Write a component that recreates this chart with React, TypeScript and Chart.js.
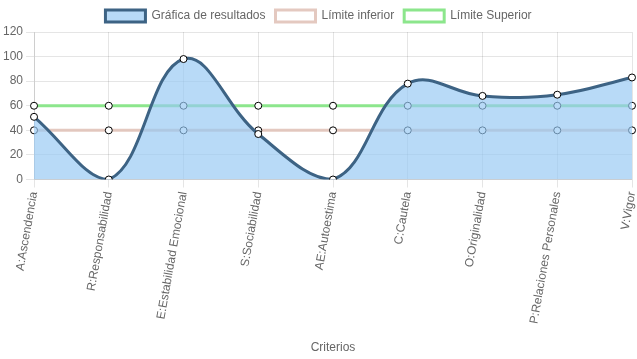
import React, { useEffect, useRef } from "react";
import { Chart, registerables } from "chart.js";

Chart.register(...registerables);

const categories = [
  "A:Ascendencia",
  "R:Responsabilidad",
  "E:Estabilidad Emocional",
  "S:Sociabilidad",
  "AE:Autoestima",
  "C:Cautela",
  "O:Originalidad",
  "P:Relaciones Personales",
  "V:Vigor",
];
const resultados = [51, 0, 98, 37, 0, 78, 68, 69, 83];
const limiteInferior = [40, 40, 40, 40, 40, 40, 40, 40, 40];
const limiteSuperior = [60, 60, 60, 60, 60, 60, 60, 60, 60];

export default function App() {
  const ref = useRef<HTMLCanvasElement>(null);
  useEffect(() => {
    if (!ref.current) return;
    Chart.defaults.font.family = "'Liberation Sans', Arial, sans-serif";
    Chart.defaults.color = "#666";
    const chart = new Chart(ref.current, {
      type: "line",
      data: {
        labels: categories,
        datasets: [
          {
            label: "Gráfica de resultados",
            data: resultados,
            borderColor: "#3d6384",
            backgroundColor: "rgba(150,200,243,0.68)",
            borderWidth: 3,
            fill: "origin",
            tension: 0.4,
            pointRadius: 3.5,
            pointBackgroundColor: "#fff",
            pointBorderColor: "#000",
            pointBorderWidth: 1,
          },
          {
            label: "Límite inferior",
            data: limiteInferior,
            borderColor: "rgba(225,195,185,0.9)",
            backgroundColor: "#fff",
            borderWidth: 3,
            fill: false,
            tension: 0.4,
            pointRadius: 3.5,
            pointBackgroundColor: "#fff",
            pointBorderColor: "#000",
            pointBorderWidth: 1,
          },
          {
            label: "Límite Superior",
            data: limiteSuperior,
            borderColor: "rgba(140,230,140,1)",
            backgroundColor: "#fff",
            borderWidth: 3,
            fill: false,
            tension: 0.4,
            pointRadius: 3.5,
            pointBackgroundColor: "#fff",
            pointBorderColor: "#000",
            pointBorderWidth: 1,
          },
        ],
      },
      options: {
        animation: false,
        responsive: true,
        maintainAspectRatio: false,
        plugins: {
          legend: {
            labels: { boxWidth: 40, font: { size: 12 } },
          },
          tooltip: { enabled: false },
        },
        scales: {
          x: {
            title: { display: true, text: "Criterios", font: { size: 12 }, padding: { top: 20 } },
            ticks: { font: { size: 12 }, autoSkip: false, minRotation: 80, maxRotation: 80 },
            grid: { color: "rgba(0,0,0,0.1)" },
            afterFit: (scale: any) => {
              scale.paddingRight = 4;
            },
          },
          y: {
            min: 0,
            max: 120,
            ticks: { stepSize: 20, font: { size: 12 } },
            grid: { color: "rgba(0,0,0,0.1)" },
          },
        },
      },
    });
    return () => chart.destroy();
  }, []);
  return (
    <div style={{ position: "absolute", left: 0, top: 0, width: 637, height: 359 }}>
      <canvas ref={ref} />
    </div>
  );
}
